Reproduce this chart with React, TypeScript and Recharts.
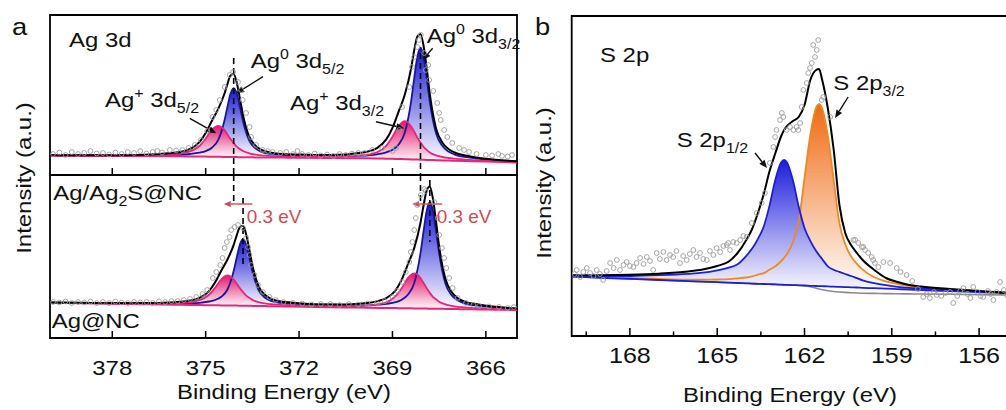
import React from "react";
import { ComposedChart, Area, Line, Scatter, XAxis, YAxis, ReferenceLine, ReferenceArea } from "recharts";

const FONT = "'Liberation Sans', Arial, Helvetica, sans-serif";
const SX = 1.14;

// ---- Ag 3d, upper trace (Ag/Ag2S@NC) ----
const agUpperEnergy = [380, 379, 378, 377, 376, 375.5, 375.2, 375.0, 374.8, 374.6, 374.4, 374.3, 374.2, 374.1, 374.0, 373.9, 373.8, 373.6, 373.4, 373.2, 373.0, 372.5, 372, 371, 370, 369.5, 369.2, 369.0, 368.8, 368.6, 368.4, 368.3, 368.2, 368.1, 368.0, 367.9, 367.8, 367.6, 367.4, 367.2, 367.0, 366.5, 366, 365.5, 365];
const agUpperBase = [19.5, 19.3, 19.1, 18.9, 18.7, 18.6, 18.5, 18.4, 18.3, 18.2, 18.1, 18.0, 18.0, 17.9, 17.9, 17.8, 17.8, 17.7, 17.6, 17.5, 17.5, 17.4, 17.3, 17.0, 16.7, 16.5, 16.3, 16.2, 16.0, 15.8, 15.6, 15.5, 15.4, 15.3, 15.2, 15.1, 15.0, 14.8, 14.6, 14.4, 14.2, 13.8, 13.4, 13.0, 12.5];
const agUpperAg0 = [19.6, 19.5, 19.4, 19.5, 20.1, 21.0, 22.3, 23.9, 27.3, 34.8, 54.0, 68.4, 81.5, 86.9, 81.4, 68.2, 53.7, 34.3, 26.6, 23.0, 21.3, 19.9, 19.2, 18.6, 19.3, 20.7, 22.7, 25.2, 30.6, 42.7, 73.8, 97.3, 118.4, 127.3, 118.2, 96.9, 73.2, 41.7, 29.2, 23.4, 20.4, 17.3, 15.4, 14.2, 13.4];
const agUpperAgPlus = [19.6, 19.5, 19.5, 19.7, 20.8, 23.6, 29.0, 36.4, 45.3, 49.2, 45.1, 40.6, 36.0, 31.9, 28.4, 26.0, 24.0, 21.7, 20.4, 19.6, 19.2, 18.4, 18.5, 18.3, 19.6, 22.7, 29.2, 38.2, 49.0, 53.8, 48.6, 43.2, 37.4, 32.4, 28.1, 25.1, 22.6, 19.7, 18.0, 17.0, 16.3, 15.1, 14.3, 13.6, 12.9];
const agUpperFit = [19.7, 19.7, 19.8, 20.3, 22.2, 26.0, 32.8, 41.9, 54.3, 65.8, 81.0, 91.0, 99.5, 100.9, 91.9, 76.4, 59.9, 38.3, 29.4, 25.1, 23.0, 20.9, 20.4, 19.9, 22.2, 26.9, 35.6, 47.2, 63.6, 80.7, 106.8, 125.0, 138.5, 141.0, 129.0, 106.9, 80.8, 46.6, 32.6, 26.0, 22.5, 18.6, 16.3, 14.8, 13.8];
const agUpperPoints = [
  [379.9, 21], [379.7, 22.5], [379.5, 20], [379.3, 23], [379.1, 21], [378.9, 22], [378.7, 24], [378.5, 21.5], [378.3, 22], [378.1, 20.5],
  [377.9, 22.5], [377.7, 21], [377.5, 23], [377.3, 22], [377.1, 24], [376.9, 21.5], [376.7, 23], [376.55, 24], [376.4, 22.5], [376.15, 25],
  [375.95, 24.5], [375.75, 25], [375.55, 27], [375.35, 30], [375.15, 35], [374.95, 44], [374.78, 58], [374.66, 65], [374.55, 75], [374.39, 88],
  [374.23, 100], [374.12, 103], [373.96, 93], [373.86, 85], [373.81, 75], [373.7, 62], [373.59, 48], [373.54, 38], [373.38, 30], [373.17, 25],
  [373.0, 24], [372.85, 23], [372.6, 22], [372.41, 23], [372.2, 21], [372.05, 24], [371.9, 21], [371.7, 20], [371.5, 21.5], [371.3, 19.5],
  [371.1, 20.5], [370.9, 19], [370.7, 21], [370.5, 20], [370.3, 21.5], [370.1, 22], [369.9, 22], [369.65, 25], [369.33, 27], [369.0, 24],
  [368.89, 27], [368.78, 45], [368.69, 68], [368.46, 88], [368.37, 108], [368.3, 118], [368.2, 128], [368.15, 135], [368.09, 140], [367.98, 122],
  [367.93, 105], [367.85, 110], [367.82, 95], [367.69, 84], [367.56, 72], [367.5, 62], [367.45, 55], [367.34, 45], [367.24, 38], [367.08, 32],
  [366.86, 27], [366.7, 25], [366.54, 23], [366.3, 21], [366.0, 20], [365.8, 19.5], [365.6, 21], [365.48, 19], [365.3, 18.5], [365.16, 20],
];

// ---- Ag 3d, lower trace (Ag@NC) ----
const agLowerEnergy = [380, 379, 378, 377, 376, 375.5, 375.2, 374.9, 374.7, 374.5, 374.3, 374.1, 374.0, 373.9, 373.8, 373.7, 373.6, 373.5, 373.3, 373.1, 372.9, 372.7, 372.2, 371.5, 370.5, 369.8, 369.2, 368.9, 368.7, 368.5, 368.3, 368.1, 368.0, 367.9, 367.8, 367.7, 367.6, 367.5, 367.3, 367.1, 366.9, 366.7, 366.2, 365.7, 365];
const agLowerBase = [35.3, 34.8, 34.3, 33.8, 33.3, 33.1, 32.9, 32.8, 32.7, 32.6, 32.5, 32.4, 32.4, 32.3, 32.3, 32.2, 32.2, 32.1, 32.0, 31.9, 31.8, 31.7, 31.5, 31.1, 30.6, 30.3, 30.0, 29.9, 29.8, 29.7, 29.6, 29.5, 29.4, 29.4, 29.3, 29.3, 29.2, 29.2, 29.1, 29.0, 28.9, 28.8, 28.6, 28.3, 28.0];
const agLowerAg0 = [35.4, 35.0, 34.6, 34.3, 34.4, 34.8, 35.2, 36.5, 38.0, 41.2, 48.5, 67.0, 80.9, 93.5, 98.8, 93.4, 80.7, 66.7, 48.0, 40.5, 37.1, 35.7, 34.0, 32.8, 32.2, 32.7, 34.2, 35.8, 38.3, 43.5, 55.1, 84.8, 107.1, 127.4, 135.8, 127.3, 106.9, 84.5, 54.6, 42.8, 37.4, 34.7, 32.1, 30.4, 29.0];
const agLowerAgPlus = [35.4, 35.0, 34.6, 34.4, 34.7, 35.8, 37.8, 43.0, 50.1, 58.7, 62.5, 58.5, 54.3, 49.7, 45.8, 42.4, 40.3, 38.1, 35.9, 34.6, 33.8, 33.3, 32.8, 32.1, 32.0, 32.6, 35.7, 41.8, 50.1, 60.2, 64.6, 60.0, 55.0, 49.7, 45.1, 41.2, 38.7, 36.2, 33.7, 32.2, 31.2, 30.7, 29.8, 29.1, 28.5];
const agLowerFit = [35.5, 35.2, 34.9, 34.9, 35.8, 37.5, 40.1, 46.7, 55.4, 67.3, 78.5, 93.1, 102.8, 110.9, 112.3, 103.6, 88.8, 72.7, 51.9, 43.2, 39.1, 37.3, 35.3, 33.8, 33.6, 35.0, 39.9, 47.7, 58.6, 74.0, 90.1, 115.3, 132.7, 147.7, 151.6, 139.2, 116.4, 91.5, 59.2, 46.0, 39.7, 36.6, 33.3, 31.2, 29.5];
const agLowerPoints = [
  [379.9, 36], [379.7, 35.5], [379.5, 36.5], [379.3, 35], [379.1, 36], [378.9, 35.5], [378.7, 36.5], [378.5, 35], [378.3, 36], [378.1, 35],
  [377.9, 36.5], [377.7, 35.5], [377.5, 35], [377.3, 36], [377.1, 35.5], [376.9, 36], [376.7, 35], [376.5, 36.5], [376.3, 36], [376.1, 37],
  [375.9, 37], [375.7, 38], [375.5, 39], [375.3, 41], [375.1, 44], [374.95, 48], [374.77, 60], [374.66, 66], [374.53, 73], [374.46, 80],
  [374.39, 90], [374.32, 96], [374.23, 101], [374.18, 108], [374.07, 111], [373.96, 113], [373.8, 110], [373.7, 100], [373.64, 91], [373.59, 83],
  [373.54, 73], [373.43, 63], [373.32, 53], [373.16, 46], [372.95, 41], [372.75, 38], [372.5, 36], [372.2, 35], [371.9, 34.5], [371.6, 33.5],
  [371.3, 34], [371.0, 34], [370.7, 33], [370.4, 34], [370.1, 33.5], [369.8, 34.5], [369.5, 35], [369.25, 37], [369.0, 41], [368.85, 47],
  [368.68, 56], [368.57, 66], [368.46, 76], [368.41, 86], [368.36, 96], [368.3, 108], [368.25, 120], [368.2, 133], [368.09, 143], [367.98, 149],
  [367.93, 147], [367.66, 136], [367.55, 120], [367.5, 103], [367.41, 90], [367.34, 80], [367.27, 70], [367.18, 60], [367.07, 50], [366.91, 40],
  [366.64, 35], [366.4, 33], [366.22, 32], [365.9, 31.5], [365.58, 31], [365.3, 30], [365.1, 31],
];

// ---- S 2p ----
const s2pEnergy = [170, 169, 168, 167, 166, 165.5, 165, 164.6, 164.3, 164.0, 163.8, 163.6, 163.4, 163.2, 163.0, 162.8, 162.7, 162.6, 162.4, 162.2, 162.0, 161.8, 161.6, 161.5, 161.4, 161.2, 161.0, 160.8, 160.6, 160.4, 160.2, 160.0, 159.6, 159.2, 158.8, 158.4, 158, 157, 156, 155];
const s2pBase = [59.3, 58.2, 57.1, 56.0, 54.9, 54.3, 53.8, 53.3, 53.0, 52.7, 52.4, 52.2, 52.0, 51.8, 51.6, 51.3, 51.2, 51.1, 50.9, 50.7, 50.5, 50.2, 50.0, 49.9, 49.8, 49.6, 49.3, 49.1, 48.9, 48.7, 48.5, 48.2, 47.8, 47.3, 46.9, 46.5, 46.0, 44.9, 43.8, 42.7];
const s2pShirley = [59.3, 58.2, 57.1, 56.0, 54.9, 54.3, 53.8, 53.3, 53.0, 52.7, 52.4, 52.2, 52.0, 51.8, 51.6, 51.3, 51.2, 51.1, 50.9, 50.7, 50.2, 49.3, 47.8, 47.0, 46.3, 45.2, 44.5, 44.0, 43.6, 43.3, 43.0, 42.8, 42.6, 42.4, 42.2, 42.1, 42.0, 41.7, 41.4, 41.1];
const s2pHalf = [60.3, 59.9, 60.0, 60.8, 62.2, 63.3, 65.7, 68.3, 71.8, 80.2, 87.4, 97.2, 109.5, 130.6, 156.6, 173.8, 176.0, 173.6, 155.9, 129.5, 108.0, 95.2, 85.0, 81.0, 77.3, 69.6, 66.2, 64.1, 62.0, 60.0, 57.8, 55.6, 52.8, 50.8, 49.2, 48.2, 47.5, 45.8, 44.4, 43.3];
const s2pThreeHalf = [59.8, 58.9, 58.0, 57.1, 56.4, 56.3, 56.5, 56.9, 57.6, 58.5, 59.7, 61.3, 62.9, 66.4, 69.8, 75.0, 78.2, 82.0, 93.7, 114.4, 157.9, 201.2, 228.4, 231.9, 228.2, 200.6, 156.7, 112.8, 91.7, 79.6, 72.2, 66.4, 58.7, 54.6, 52.0, 50.1, 48.7, 46.4, 44.7, 43.3];
const s2pFit = [60.8, 60.8, 61.2, 62.3, 64.5, 66.5, 70.0, 74.5, 83.0, 96.0, 107, 123, 142, 165, 183, 200, 206, 210, 215, 219, 231, 256, 266, 267, 257, 228, 187, 131, 103, 91, 83, 76, 66, 58, 54, 51, 49.5, 47, 45, 43.2];
const s2pPoints = [
  [169.9, 62], [169.83, 66], [169.71, 59], [169.6, 64], [169.48, 68], [169.37, 63], [169.25, 60], [169.14, 66], [169.03, 62], [168.92, 56],
  [168.8, 65], [168.68, 73], [168.56, 68], [168.45, 76], [168.34, 66], [168.22, 71], [168.11, 74], [168.0, 70], [167.88, 69], [167.77, 73],
  [167.65, 78], [167.53, 72], [167.42, 79], [167.31, 75], [167.2, 66], [167.08, 83], [166.97, 77], [166.85, 84], [166.74, 76], [166.62, 81],
  [166.51, 79], [166.4, 85], [166.28, 73], [166.17, 80], [166.05, 76], [165.94, 82], [165.82, 86], [165.71, 79], [165.59, 83], [165.48, 77],
  [165.36, 76], [165.25, 85], [165.13, 81], [165.02, 88], [164.9, 84], [164.79, 90], [164.67, 91], [164.62, 93], [164.56, 86], [164.45, 94],
  [164.33, 93], [164.21, 96], [164.1, 100], [163.99, 99], [163.81, 113], [163.64, 123], [163.47, 133], [163.36, 143], [163.19, 173], [163.07, 189],
  [163.01, 199], [162.96, 206], [162.84, 216], [162.78, 223], [162.73, 219], [162.61, 206], [162.5, 209], [162.38, 206], [162.27, 209], [162.21, 206],
  [162.15, 213], [162.1, 229], [162.04, 246], [161.92, 253], [161.87, 263], [161.81, 268], [161.75, 273], [161.7, 291], [161.64, 279], [161.58, 286],
  [161.53, 296], [161.41, 236], [161.35, 239], [161.12, 219], [160.32, 96], [160.26, 96], [160.15, 93], [160.03, 89], [159.98, 89], [159.92, 86],
  [159.81, 83], [159.69, 79], [159.64, 76], [159.58, 73], [159.46, 69], [159.29, 74], [159.06, 73], [158.83, 68], [158.7, 64], [158.49, 61],
  [158.3, 55], [158.1, 47], [157.92, 39], [157.8, 42], [157.69, 38], [157.55, 44], [157.46, 41], [157.3, 40], [157.15, 43], [157.0, 44],
  [156.89, 33], [156.75, 40], [156.65, 45], [156.54, 48], [156.4, 42], [156.3, 38], [156.2, 49], [156.05, 44], [155.95, 40], [155.86, 39],
  [155.7, 45], [155.6, 42], [155.51, 36], [155.4, 44], [155.28, 54], [155.15, 46], [155.05, 41],
];

// peak positions used for the dashed guides (0.3 eV shift between traces)
const agUpperPeaks = [374.1, 368.1];
const agLowerPeaks = [373.8, 367.8];

const agTicks = [366, 369, 372, 375, 378];
const sTicks = [156, 157.5, 159, 160.5, 162, 163.5, 165, 166.5, 168, 169.5];

const NAVY = "#17179e";
const MAGENTA = "#e3287c";
const BLUE = "#1e1ed6";
const ORANGE = "#ee8a1c";
const RED = "#d24b52";

type Row = { e: number; base: number; c1: number; c2: number; fit: number; shirley?: number };

const makeRows = (e: number[], base: number[], c1: number[], c2: number[], fit: number[], shirley?: number[]): Row[] =>
  e.map((x, i) => ({ e: x, base: base[i], c1: c1[i], c2: c2[i], fit: fit[i], shirley: shirley ? shirley[i] : undefined }));
const makePts = (p: number[][]) => p.map(([e, v]) => ({ e, v }));
const within = (rows: Row[], lo: number, hi: number) => rows.filter((r) => r.e >= lo && r.e <= hi);

const upperRows = makeRows(agUpperEnergy, agUpperBase, agUpperAg0, agUpperAgPlus, agUpperFit);
const lowerRows = makeRows(agLowerEnergy, agLowerBase, agLowerAg0, agLowerAgPlus, agLowerFit);
const sRows = makeRows(s2pEnergy, s2pBase, s2pHalf, s2pThreeHalf, s2pFit, s2pShirley);

const Ring = (p: any) => <circle cx={p.cx} cy={p.cy} r={2.4} fill="none" stroke="#9c9c9c" strokeWidth={0.9} />;

const arrowShape = (color: string, head: number, width = 1.4) => (p: any) => {
  const { x1, y1, x2, y2 } = p;
  const a = Math.atan2(y2 - y1, x2 - x1);
  const hx = x2 - head * Math.cos(a);
  const hy = y2 - head * Math.sin(a);
  const w = head * 0.42;
  const pts = `${x2},${y2} ${hx - w * Math.sin(a)},${hy + w * Math.cos(a)} ${hx + w * Math.sin(a)},${hy - w * Math.cos(a)}`;
  return (
    <g>
      <line x1={x1} y1={y1} x2={hx} y2={hy} stroke={color} strokeWidth={width} />
      <polygon points={pts} fill={color} />
    </g>
  );
};

// ticks point inward (upward) from the axis; tickSize 1 + tickMargin 0 puts p.y one pixel under the axis
const agTick = (labels: boolean) => (p: any) => {
  const y0 = p.y - 1;
  return (
    <g>
      <line x1={p.x} y1={y0} x2={p.x} y2={y0 - 7} stroke="#000" strokeWidth={1.5} />
      {labels && (
        <text transform={`translate(${p.x},${y0 + 36.5}) scale(${SX},1)`} textAnchor="middle" fontSize={21} fontFamily={FONT} fill="#111">
          {p.payload.value}
        </text>
      )}
    </g>
  );
};

const sTick = (p: any) => {
  const y0 = p.y - 1;
  const major = p.payload.value % 3 === 0;
  return (
    <g>
      <line x1={p.x} y1={y0} x2={p.x} y2={y0 - (major ? 8 : 4.5)} stroke="#000" strokeWidth={1.5} />
      {major && (
        <text transform={`translate(${p.x},${y0 + 27.3}) scale(${SX},1)`} textAnchor="middle" fontSize={22} fontFamily={FONT} fill="#111">
          {p.payload.value}
        </text>
      )}
    </g>
  );
};

type Guide = { e: number; from: number; to: number };
type Pointer = { from: [number, number]; to: [number, number]; color: string; head: number };

function AgTrace(props: {
  id: string;
  rows: Row[];
  pts: { e: number; v: number }[];
  yMax: number;
  height: number;
  axisHeight: number;
  margin: { top: number; right: number; bottom: number; left: number };
  labels: boolean;
  split: [number, number];
  guides: Guide[];
  pointers: Pointer[];
}) {
  const { id, rows, pts, yMax, height, axisHeight, margin, labels, split, guides, pointers } = props;
  return (
    <ComposedChart width={530} height={height} margin={margin}>
      <defs>
        <linearGradient id={`${id}-blue`} x1="0" y1="0" x2="0" y2="1">
          <stop offset="0%" stopColor="#1414d2" />
          <stop offset="100%" stopColor="#ffffff" />
        </linearGradient>
        <linearGradient id={`${id}-pink`} x1="0" y1="0" x2="0" y2="1">
          <stop offset="0%" stopColor="#e5166c" />
          <stop offset="100%" stopColor="#ffffff" />
        </linearGradient>
      </defs>
      <XAxis type="number" dataKey="e" domain={[365, 380]} reversed allowDataOverflow ticks={agTicks} interval={0}
        axisLine={false} tickLine={false} tickSize={1} tickMargin={0} height={axisHeight} tick={agTick(labels)} />
      <YAxis type="number" domain={[0, yMax]} hide allowDataOverflow />
      <Scatter data={pts} dataKey="v" shape={Ring} isAnimationActive={false} />
      <Area data={within(rows, split[0], 380)} dataKey={(r: Row) => [r.base, r.c1]} type="monotone" stroke="none" fill={`url(#${id}-blue)`} fillOpacity={1} isAnimationActive={false} />
      <Area data={within(rows, 365, split[1])} dataKey={(r: Row) => [r.base, r.c1]} type="monotone" stroke="none" fill={`url(#${id}-blue)`} fillOpacity={1} isAnimationActive={false} />
      <Area data={within(rows, split[0], 380)} dataKey={(r: Row) => [r.base, r.c2]} type="monotone" stroke="none" fill={`url(#${id}-pink)`} fillOpacity={1} isAnimationActive={false} />
      <Area data={within(rows, 365, split[1])} dataKey={(r: Row) => [r.base, r.c2]} type="monotone" stroke="none" fill={`url(#${id}-pink)`} fillOpacity={1} isAnimationActive={false} />
      <Line data={rows} dataKey="c1" type="monotone" stroke={NAVY} strokeWidth={1.8} dot={false} isAnimationActive={false} />
      <Line data={rows} dataKey="c2" type="monotone" stroke={MAGENTA} strokeWidth={1.8} dot={false} isAnimationActive={false} />
      <Line data={rows} dataKey="base" type="monotone" stroke={MAGENTA} strokeWidth={2} dot={false} isAnimationActive={false} />
      <Line data={rows} dataKey="fit" type="monotone" stroke="#000" strokeWidth={2} dot={false} isAnimationActive={false} />
      {guides.map((g, i) => (
        <ReferenceLine key={`g${i}`} segment={[{ x: g.e, y: g.from }, { x: g.e, y: g.to }]} stroke="#000" strokeWidth={1.6} strokeDasharray="6 4" ifOverflow="visible" />
      ))}
      {pointers.map((p, i) => (
        <ReferenceLine key={`p${i}`} segment={[{ x: p.from[0], y: p.from[1] }, { x: p.to[0], y: p.to[1] }]} stroke={p.color}
          shape={arrowShape(p.color, p.head)} ifOverflow="visible" />
      ))}
      <ReferenceArea x1={365} x2={380} y1={0} y2={yMax} fill="none" stroke="#000" strokeWidth={1.8} ifOverflow="visible" />
    </ComposedChart>
  );
}

function SulfurPanel() {
  return (
    <ComposedChart width={490} height={410} margin={{ top: 16, right: 1.8, bottom: 34, left: 51.7 }}>
      <defs>
        <linearGradient id="s-blue" x1="0" y1="0" x2="0" y2="1">
          <stop offset="0%" stopColor="#1c1cdc" />
          <stop offset="100%" stopColor="#ffffff" />
        </linearGradient>
        <linearGradient id="s-orange" x1="0" y1="0" x2="0" y2="1">
          <stop offset="0%" stopColor="#f06a14" />
          <stop offset="100%" stopColor="#ffffff" />
        </linearGradient>
      </defs>
      <XAxis type="number" dataKey="e" domain={[155, 170]} reversed allowDataOverflow ticks={sTicks} interval={0}
        axisLine={false} tickLine={false} tickSize={1} tickMargin={0} height={40} tick={sTick} />
      <YAxis type="number" domain={[0, 320]} hide allowDataOverflow />
      <Scatter data={makePts(s2pPoints)} dataKey="v" shape={Ring} isAnimationActive={false} />
      <Area data={sRows} dataKey={(r: Row) => [r.base, r.c2]} type="monotone" stroke="none" fill="url(#s-orange)" fillOpacity={1} isAnimationActive={false} />
      <Line data={sRows} dataKey="c2" type="monotone" stroke={ORANGE} strokeWidth={1.8} dot={false} isAnimationActive={false} />
      <Area data={sRows} dataKey={(r: Row) => [r.base, r.c1]} type="monotone" stroke="none" fill="url(#s-blue)" fillOpacity={1} isAnimationActive={false} />
      <Line data={sRows} dataKey="shirley" type="monotone" stroke="#8a8a8a" strokeWidth={1.6} dot={false} isAnimationActive={false} />
      <Line data={sRows} dataKey="c1" type="monotone" stroke={BLUE} strokeWidth={1.8} dot={false} isAnimationActive={false} />
      <Line data={sRows} dataKey="base" type="monotone" stroke={BLUE} strokeWidth={1.8} dot={false} isAnimationActive={false} />
      <Line data={sRows} dataKey="fit" type="monotone" stroke="#000" strokeWidth={2} dot={false} isAnimationActive={false} />
      <ReferenceLine segment={[{ x: 160.5, y: 239 }, { x: 160.95, y: 218 }]} stroke="#000" shape={arrowShape("#111", 8)} ifOverflow="visible" />
      <ReferenceLine segment={[{ x: 163.7, y: 183 }, { x: 163.29, y: 168 }]} stroke="#000" shape={arrowShape("#111", 8)} ifOverflow="visible" />
      <ReferenceArea x1={155} x2={170} y1={0} y2={320} fill="none" stroke="#000" strokeWidth={1.8} ifOverflow="visible" />
    </ComposedChart>
  );
}

function Txt(props: { x: number; y: number; size?: number; fill?: string; anchor?: "start" | "middle" | "end"; rotate?: number; sx?: number; children: React.ReactNode }) {
  const { x, y, size = 21, fill = "#111", anchor = "start", rotate = 0, sx = SX, children } = props;
  return (
    <text transform={`translate(${x},${y})${rotate ? ` rotate(${rotate})` : ""} scale(${sx},1)`} fontSize={size} fill={fill}
      textAnchor={anchor} fontFamily={FONT} style={{ whiteSpace: "pre" }}>
      {children}
    </text>
  );
}

const Sup = ({ t }: { t: string }) => (<><tspan fontSize={14} dy={-9}>{t}</tspan><tspan dy={9}>{" "}</tspan></>);
const Sub = ({ t }: { t: string }) => <tspan fontSize={14} dy={6}>{t}</tspan>;

export default function App() {
  const upperGuides: Guide[] = [
    { e: agUpperPeaks[0], from: 117, to: 0 },
    { e: agUpperPeaks[1], from: 122, to: 0 },
  ];
  const lowerGuides: Guide[] = [
    { e: agUpperPeaks[0], from: 163, to: 133 },
    { e: agUpperPeaks[1], from: 163, to: 133 },
    { e: agLowerPeaks[0], from: 140, to: 71 },
    { e: agLowerPeaks[1], from: 158, to: 96 },
  ];
  const upperPointers: Pointer[] = [
    { from: [373.16, 98.3], to: [374.02, 81.7], color: "#111", head: 8 },
    { from: [375.51, 56.7], to: [374.66, 41.7], color: "#111", head: 8 },
    { from: [369.53, 53.3], to: [368.62, 46.7], color: "#111", head: 8 },
    { from: [367.71, 126.7], to: [368.03, 115], color: "#111", head: 8 },
  ];
  const lowerPointers: Pointer[] = [
    { from: [373.5, 134], to: [374.42, 134], color: RED, head: 7 },
    { from: [367.4, 134], to: [368.37, 134], color: RED, head: 7 },
  ];

  return (
    <div style={{ position: "absolute", left: 0, top: 0, width: 1006, height: 410, overflow: "hidden", background: "#fff" }}>
      <div style={{ position: "absolute", left: 0, top: 0 }}>
        <AgTrace id="agu" rows={upperRows} pts={makePts(agUpperPoints)} yMax={160} height={180} axisHeight={5}
          margin={{ top: 15, right: 13, bottom: 0, left: 50 }} labels={false} split={[371, 371]}
          guides={upperGuides} pointers={upperPointers} />
      </div>
      <div style={{ position: "absolute", left: 0, top: 170 }}>
        <AgTrace id="agl" rows={lowerRows} pts={makePts(agLowerPoints)} yMax={163} height={240} axisHeight={40}
          margin={{ top: 5, right: 13, bottom: 32, left: 50 }} labels={true} split={[370.5, 371.5]}
          guides={lowerGuides} pointers={lowerPointers} />
      </div>
      <div style={{ position: "absolute", left: 520, top: 0 }}>
        <SulfurPanel />
      </div>
      <svg width={1006} height={410} style={{ position: "absolute", left: 0, top: 0, pointerEvents: "none" }}>
        <Txt x={12} y={35} size={24}>a</Txt>
        <Txt x={535} y={35} size={24}>b</Txt>
        <Txt x={31} y={178} rotate={-90} anchor="middle">Intensity (a.u.)</Txt>
        <Txt x={551} y={183} rotate={-90} anchor="middle">Intensity (a.u.)</Txt>
        <Txt x={284} y={398.5} anchor="middle">Binding Energy (eV)</Txt>
        <Txt x={790} y={401.7} anchor="middle">Binding Energy (eV)</Txt>

        <Txt x={69} y={47}>Ag 3d</Txt>
        <Txt x={250.7} y={68.3}>Ag<Sup t="0" />3d<Sub t="5/2" /></Txt>
        <Txt x={105} y={106.7}>Ag<Sup t="+" />3d<Sub t="5/2" /></Txt>
        <Txt x={290} y={110}>Ag<Sup t="+" />3d<Sub t="3/2" /></Txt>
        <Txt x={426.7} y={43.3}>Ag<Sup t="0" />3d<Sub t="3/2" /></Txt>
        <Txt x={53.3} y={200}>Ag/Ag<Sub t="2" /><tspan dy={-6}>S@NC</tspan></Txt>
        <Txt x={51.7} y={328.3}>Ag@NC</Txt>
        <Txt x={246.7} y={223.3} size={18} sx={1.05} fill={RED}>0.3 eV</Txt>
        <Txt x={436.7} y={223.3} size={18} sx={1.05} fill={RED}>0.3 eV</Txt>

        <Txt x={600} y={61.7}>S 2p</Txt>
        <Txt x={833.3} y={90}>S 2p<Sub t="3/2" /></Txt>
        <Txt x={676.7} y={146.7}>S 2p<Sub t="1/2" /></Txt>
      </svg>
    </div>
  );
}
